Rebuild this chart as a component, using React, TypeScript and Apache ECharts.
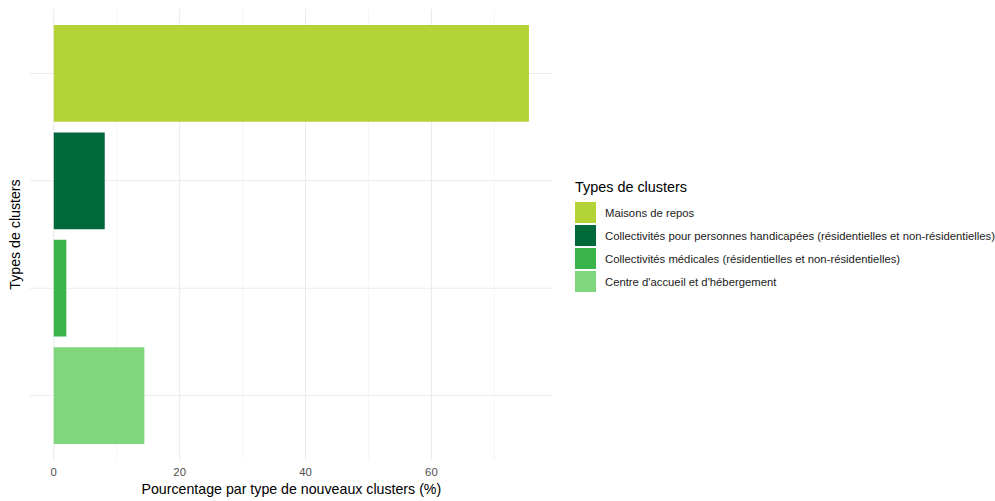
import React, { useEffect, useRef } from "react";
import * as echarts from "echarts";

const categories = [
  "Maisons de repos",
  "Collectivités pour personnes handicapées (résidentielles et non-résidentielles)",
  "Collectivités médicales (résidentielles et non-résidentielles)",
  "Centre d'accueil et d'hébergement",
];
const values = [75.5, 8.1, 2.0, 14.4];
const colors = ["#B3D337", "#00693A", "#3AB54B", "#80D67D"];
const majorTicks = [0, 20, 40, 60];
const minorTicks = [10, 30, 50, 70];

const FONT = "'Liberation Sans', Arial, sans-serif";

export default function App() {
  const ref = useRef<HTMLDivElement>(null);
  useEffect(() => {
    if (!ref.current) return;
    const chart = echarts.init(ref.current, undefined, { renderer: "svg" });
    const vmax = Math.max(...values);
    const xMin = -0.05 * vmax;
    const xMax = vmax * 1.05;
    const n = categories.length;

    const barSeries = categories.map((name, i) => ({
      name,
      type: "custom",
      z: 3,
      itemStyle: { color: colors[i] },
      data: [[values[i], i + 1]],
      renderItem: (params: any, api: any) => {
        const p0 = api.coord([0, api.value(1)]);
        const p1 = api.coord([api.value(0), api.value(1)]);
        const h = Math.abs(api.size([0, 0.9])[1]);
        return {
          type: "rect",
          shape: { x: p0[0], y: p0[1] - h / 2, width: p1[0] - p0[0], height: h },
          style: { fill: api.visual("color") },
        };
      },
    }));

    // gridline data: [kind, value]  kind 0 = vertical minor, 1 = vertical major, 2 = horizontal
    const gridData = [
      ...minorTicks.map((v) => [0, v]),
      ...majorTicks.map((v) => [1, v]),
      ...categories.map((_, i) => [2, i + 1]),
    ];

    const gridSeries = {
      name: "grid",
      type: "custom",
      z: 1,
      silent: true,
      data: gridData,
      renderItem: (params: any, api: any) => {
        const cs = params.coordSys;
        const kind = api.value(0);
        const v = api.value(1);
        if (kind === 2) {
          const y = api.coord([0, v])[1];
          return {
            type: "line",
            shape: { x1: cs.x, y1: y, x2: cs.x + cs.width, y2: y },
            style: { stroke: "#ebebeb", lineWidth: 1.1 },
          };
        }
        const x = api.coord([v, 1])[0];
        return {
          type: "line",
          shape: { x1: x, y1: cs.y, x2: x, y2: cs.y + cs.height },
          style: kind === 1 ? { stroke: "#ebebeb", lineWidth: 1.1 } : { stroke: "#eeeeee", lineWidth: 0.6 },
        };
      },
    };

    chart.setOption({
      animation: false,
      backgroundColor: "#ffffff",
      textStyle: { fontFamily: FONT },
      title: {
        text: "Types de clusters",
        left: 575,
        top: 180,
        padding: 0,
        textStyle: { fontFamily: FONT, fontSize: 14.4, fontWeight: "normal", color: "#000000" },
      },
      legend: {
        data: categories,
        orient: "vertical",
        left: 575,
        top: 202,
        padding: 0,
        itemWidth: 21,
        itemHeight: 21,
        itemGap: 2,
        icon: "rect",
        selectedMode: false,
        textStyle: { fontFamily: FONT, fontSize: 11.3, color: "#1a1a1a", padding: [0, 0, 0, 4] },
      },
      grid: { left: 29.5, right: 442.3, top: 9, bottom: 37.7, containLabel: false },
      xAxis: {
        type: "value",
        min: xMin,
        max: xMax,
        name: "Pourcentage par type de nouveaux clusters (%)",
        nameLocation: "middle",
        nameGap: 22,
        nameTextStyle: { fontFamily: FONT, fontSize: 14.2, color: "#000000" },
        axisLine: { show: false },
        axisTick: { show: false },
        splitLine: { show: false },
        axisLabel: {
          customValues: majorTicks,
          color: "#4d4d4d",
          fontFamily: FONT,
          fontSize: 11.3,
          margin: 6,
        },
      },
      yAxis: {
        type: "value",
        min: 0.4,
        max: n + 0.6,
        inverse: true,
        name: "Types de clusters",
        nameLocation: "middle",
        nameGap: 8,
        nameTextStyle: { fontFamily: FONT, fontSize: 14.2, color: "#000000" },
        axisLine: { show: false },
        axisTick: { show: false },
        axisLabel: { show: false },
        splitLine: { show: false },
      },
      series: [gridSeries, ...barSeries],
    });
    return () => chart.dispose();
  }, []);
  return (
    <div
      ref={ref}
      style={{ position: "fixed", left: 0, top: 0, width: 995, height: 501, background: "#fff" }}
    />
  );
}
